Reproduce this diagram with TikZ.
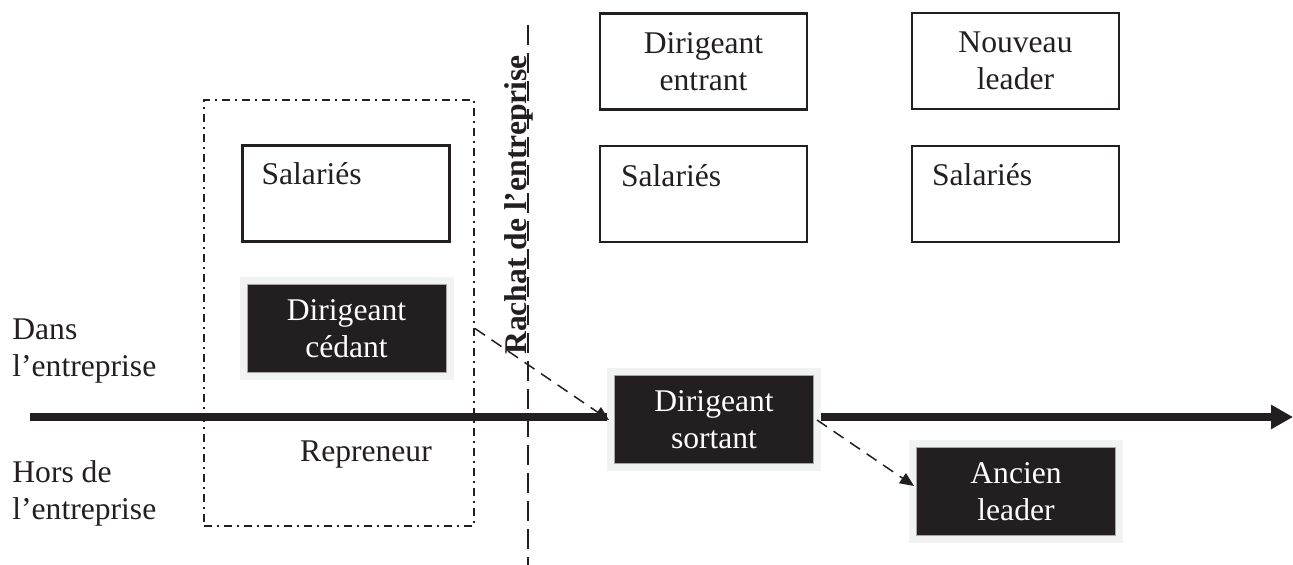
\documentclass[tikz,border=0pt]{standalone}
\usepackage{fontspec}
\setmainfont{Liberation Serif}
\usetikzlibrary{arrows.meta,calc}
\definecolor{ink}{HTML}{231F20}
\definecolor{halo}{HTML}{F1F2F2}

\begin{document}
\begin{tikzpicture}[x=0.5pt, y=-0.5pt, color=ink, font=\fontsize{15.8}{18.5}\selectfont,
	wbox/.style={draw=ink, line width=1.3pt, fill=white, minimum width=103.5pt, minimum height=48pt, inner sep=0pt, align=center},
	bbox/.style={fill=ink, draw=gray!70, line width=0.5pt, text=white, inner sep=0pt, align=center, minimum width=99.5pt, minimum height=44pt, preaction={draw=halo, line width=7.5pt}},
	txt/.style={inner sep=0pt},
	cutline/.style={line width=1pt, dash pattern=on 10pt off 4pt},
	dasharrow/.style={line width=0.75pt, dash pattern=on 6pt off 4pt, -{Triangle[length=7pt,width=6pt]}}]
	\useasboundingbox (0,0) rectangle (1293,565);

	% groupe du repreneur
	\node[draw=ink, line width=1pt, dash pattern=on 4pt off 2.5pt on 1pt off 2.5pt, minimum width=135pt, minimum height=213pt, inner sep=0pt](repreneur) at (339,313){};
	\node[txt, anchor=base](reptxt) at (366,462){Repreneur};

	% ligne du rachat
	\coordinate (cuttop) at (528,25);
	\coordinate (cutbot) at (528,565);
	\draw[cutline] (cuttop) -- (cutbot);
	\node[txt, rotate=90, anchor=base, font=\fontsize{15.8}{18.5}\selectfont\bfseries](rachat) at (526,205){Rachat de l’entreprise};

	% axe du temps
	\coordinate (tstart) at (30,417);
	\coordinate (tend) at (1293,417);
	\draw[line width=4pt, -{Triangle[length=11pt,width=11.5pt]}] (tstart) -- (tend);

	\node[txt, anchor=west, align=left](dans) at (12,351){Dans\\l’entreprise};
	\node[txt, anchor=west, align=left](hors) at (12,493){Hors de\\l’entreprise};

	% avant le rachat
	\node[wbox](salcedant) at (346,193.5){};
	\node[bbox](cedant) at (346.5,328.5){Dirigeant\\cédant};

	% apres le rachat
	\node[wbox](entrant) at (703.5,61.5){Dirigeant\\entrant};
	\node[wbox](salentrant) at (703.5,194){};
	\node[bbox](sortant) at (714,420){Dirigeant\\sortant};

	\node[wbox](nouveau) at (1015.5,61){Nouveau\\leader};
	\node[wbox](salnouveau) at (1015.5,194){};
	\node[bbox](ancien) at (1016,491.5){Ancien\\leader};

	\node[txt, anchor=base west](sal1) at ($(salcedant.north west)+(20,40)$){Salariés};
	\node[txt, anchor=base west](sal2) at ($(salentrant.north west)+(22,42)$){Salariés};
	\node[txt, anchor=base west](sal3) at ($(salnouveau.north west)+(21,41)$){Salariés};

	\draw[dasharrow] (cedant -| repreneur.east) -- ([xshift=-2.5pt]sortant.west);
	\draw[dasharrow] ([xshift=1.5pt]sortant.east) -- ([xshift=-1pt,yshift=2.75pt]ancien.west);
\end{tikzpicture}
\end{document}
